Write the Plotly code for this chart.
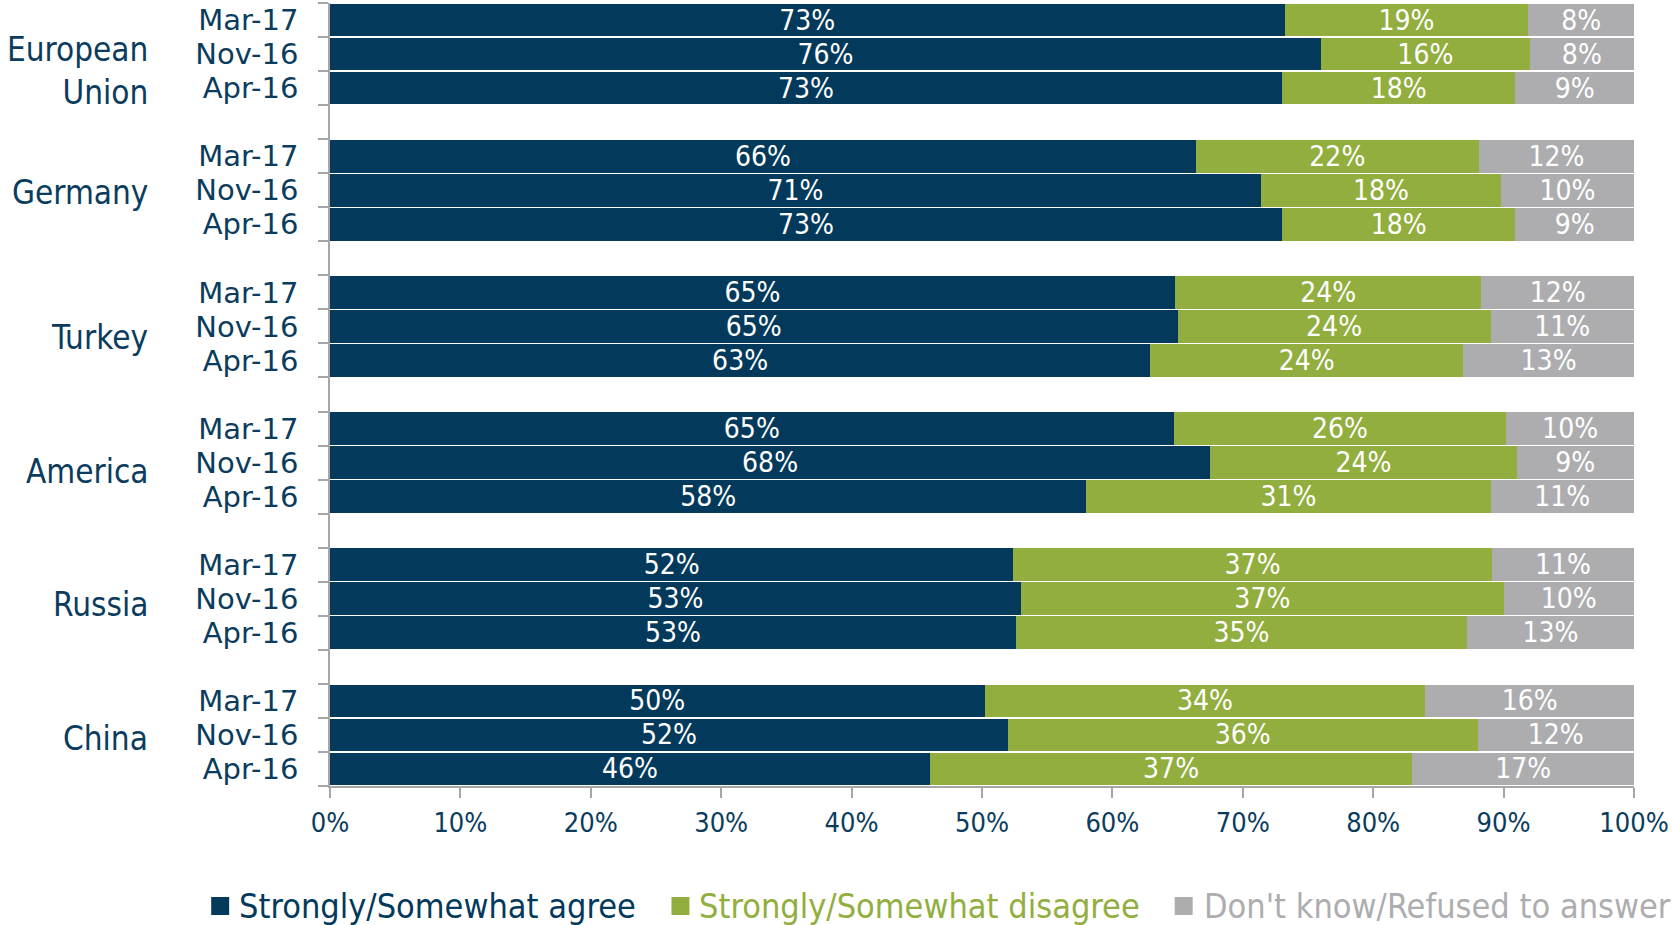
import plotly.graph_objects as go

# ---- data ----
groups = ["European Union", "Germany", "Turkey", "America", "Russia", "China"]
group_labels = ["European<br>Union", "Germany", "Turkey", "America", "Russia", "China"]
waves = ["Mar-17", "Nov-16", "Apr-16"]

agree = [73.2, 76.0, 73.0,
         66.4, 71.4, 73.0,
         64.8, 65.0, 62.9,
         64.7, 67.5, 58.0,
         52.4, 53.0, 52.6,
         50.2, 52.0, 46.0]
disagree = [18.7, 16.0, 17.9,
            21.7, 18.4, 17.9,
            23.5, 24.0, 24.0,
            25.5, 23.5, 31.0,
            36.7, 37.0, 34.6,
            33.8, 36.0, 37.0]
dontknow = [8.1, 8.0, 9.1,
            11.9, 10.2, 9.1,
            11.7, 11.0, 13.1,
            9.8, 9.0, 11.0,
            10.9, 10.0, 12.8,
            16.0, 12.0, 17.0]

series_names = ["Strongly/Somewhat agree", "Strongly/Somewhat disagree", "Don't know/Refused to answer"]
series_colors = ["#033a5b", "#91ae3e", "#adadaf"]
x_ticks = list(range(0, 101, 10))
x_ticktext = [f"{v}%" for v in x_ticks]

# ---- layout constants ----
W, H = 1672, 925
L, R, T, B = 330, 36, 3, 139
PW, PH = W - L - R, H - T - B
NAVY_TEXT = "#0b3c5d"
AXIS_GRAY = "#a6a6a6"
CAT_FONT = "DejaVu Sans Condensed, DejaVu Sans, sans-serif"
DATE_FONT = "DejaVu Sans, sans-serif"
NUM_FONT = "DejaVu Sans Condensed, DejaVu Sans, sans-serif"
# vertical placement of group labels (in slots, below the group's middle row)
GROUP_LABEL_SHIFT = [0.49, 0.06, 0.32, 0.26, 0.18, 0.09]


def px_to_paper_x(px):
    return (px - L) / PW


def px_to_paper_y(py):
    return (H - B - py) / PH


# slot positions: 3 rows per group, one empty slot between groups
ypos = [g * 4 + r for g in range(len(groups)) for r in range(len(waves))]
ylabels = [w for g in groups for w in waves]

fig = go.Figure()
for name, vals, col in zip(series_names, [agree, disagree, dontknow], series_colors):
    fig.add_trace(go.Bar(
        name=name, x=vals, y=ypos, orientation="h",
        marker=dict(color=col, line=dict(width=0)),
        texttemplate="%{x:.0f}%", textposition="inside",
        insidetextanchor="middle", constraintext="none",
        textfont=dict(family=NUM_FONT, size=28, color="white"),
        showlegend=False, hoverinfo="skip",
    ))

n_slots = len(groups) * 4 - 1

annotations = []
for g, lab in enumerate(group_labels):
    annotations.append(dict(
        x=px_to_paper_x(150), xref="paper", xanchor="right",
        y=g * 4 + 1 + GROUP_LABEL_SHIFT[g], yref="y", yanchor="middle",
        text=lab, showarrow=False, align="right",
        font=dict(family=CAT_FONT, size=33, color=NAVY_TEXT),
    ))

# manual legend (reference legend runs off the right edge)
legend_sq_x = [211, 672, 1176]
legend_txt_x = [237, 698, 1203]
legend_cy = 906
shapes = []
for name, col, sx, tx in zip(series_names, series_colors, legend_sq_x, legend_txt_x):
    shapes.append(dict(
        type="rect", xref="paper", yref="paper",
        x0=px_to_paper_x(sx), x1=px_to_paper_x(sx + 18),
        y0=px_to_paper_y(legend_cy + 9), y1=px_to_paper_y(legend_cy - 9),
        fillcolor=col, line=dict(width=0),
    ))
    annotations.append(dict(
        x=px_to_paper_x(tx), xref="paper", xanchor="left",
        y=px_to_paper_y(legend_cy), yref="paper", yanchor="middle",
        text=name, showarrow=False,
        font=dict(family=CAT_FONT, size=34, color=col),
    ))

fig.update_layout(
    width=W, height=H,
    margin=dict(l=L, r=R, t=T, b=B, pad=0),
    barmode="stack", bargap=0.04,
    plot_bgcolor="white", paper_bgcolor="white",
    showlegend=False,
    annotations=annotations, shapes=shapes,
    xaxis=dict(
        range=[0, 100], tickvals=x_ticks, ticktext=x_ticktext,
        showgrid=False, zeroline=False,
        showline=True, linecolor=AXIS_GRAY, linewidth=1.5,
        ticks="outside", ticklen=10, tickcolor=AXIS_GRAY, tickwidth=1.5,
        ticklabelstandoff=2,
        tickfont=dict(family=NUM_FONT, size=27, color=NAVY_TEXT),
    ),
    yaxis=dict(
        range=[n_slots - 0.5, -0.5],
        tickvals=ypos, ticktext=ylabels, ticks="",
        showgrid=False, zeroline=False,
        showline=True, linecolor=AXIS_GRAY, linewidth=1.5,
        ticklabelstandoff=24,
        tickfont=dict(family=DATE_FONT, size=29, color=NAVY_TEXT),
        minor=dict(tick0=0.5, dtick=1, ticks="outside", ticklen=10,
                   tickcolor=AXIS_GRAY, tickwidth=1.5, showgrid=False),
    ),
)

fig.write_html(
    "out.html",
    config={"displayModeBar": False},
    post_script="document.body.style.margin='0';document.body.style.overflow='hidden';",
)
